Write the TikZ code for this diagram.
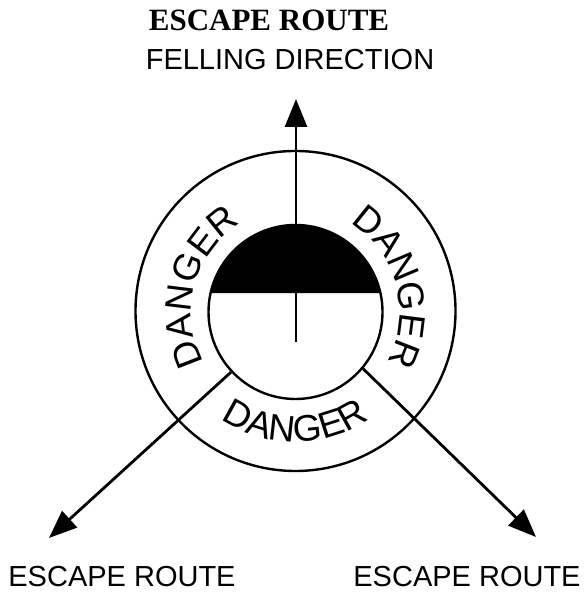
\documentclass[tikz,border=0pt]{standalone}
\usepackage{fontspec}
\setmainfont{Liberation Sans}
\newfontfamily\tituloFont{Liberation Serif}
\usetikzlibrary{arrows.meta,decorations.text}

\begin{document}
\begin{tikzpicture}[
  x=0.5pt, y=0.5pt,
  flecha/.style={-{Triangle[length=14pt,width=11pt]}, line width=1.4pt},
  aro/.style={circle, draw, line width=1.2pt, inner sep=0pt},
  rotulo/.style={font=\fontsize{14.5}{14.5}\selectfont, anchor=base, inner sep=0pt},
  peligro/.style={
    decorate,
    decoration={text along path, text align=center,
      text={|\fontsize{18.5}{18.5}\selectfont|DANGER}}
  }
]
  \useasboundingbox (0,0) rectangle (585,592);

  % Textos
  \node[rotulo, font=\tituloFont\bfseries\fontsize{15.5}{15.5}\selectfont]
    (titulo) at (269,561) {ESCAPE ROUTE};
  \node[rotulo] (caida) at (290,522) {FELLING DIRECTION};
  \node[rotulo] (rutaIzq) at (122,5) {ESCAPE ROUTE};
  \node[rotulo] (rutaDer) at (467,5) {ESCAPE ROUTE};

  % Zona de peligro
  \node[aro, minimum size=160pt] (zona) at (295.5,281) {};

  % Tocón con la parte superior rellena
  \fill ([shift={(12.6:87)}]295.5,280)
    arc[start angle=12.6, end angle=167.4, radius=87] -- cycle;
  \node[aro, minimum size=87pt] (tocon) at (295.5,280) {};

  % Dirección de caída
  \coordinate (base) at (296,250);
  \coordinate (punta) at (296,493);
  \draw[flecha] (base) -- (punta);

  % Rutas de escape
  \coordinate (salidaIzq) at (49,54);
  \coordinate (salidaDer) at (536,55);
  \draw[flecha] (tocon.223) -- (salidaIzq);
  \draw[flecha] (tocon.-40) -- (salidaDer);

  % Rótulos DANGER
  \path[peligro] ([shift={(230:104)}]tocon.center)
    arc[start angle=230, end angle=100, radius=104];
  \path[peligro] ([shift={(80:104)}]tocon.center)
    arc[start angle=80, end angle=-50, radius=104];
  \path[peligro] ([shift={(210:130)}]tocon.center)
    arc[start angle=210, end angle=330, radius=130];

\end{tikzpicture}
\end{document}
